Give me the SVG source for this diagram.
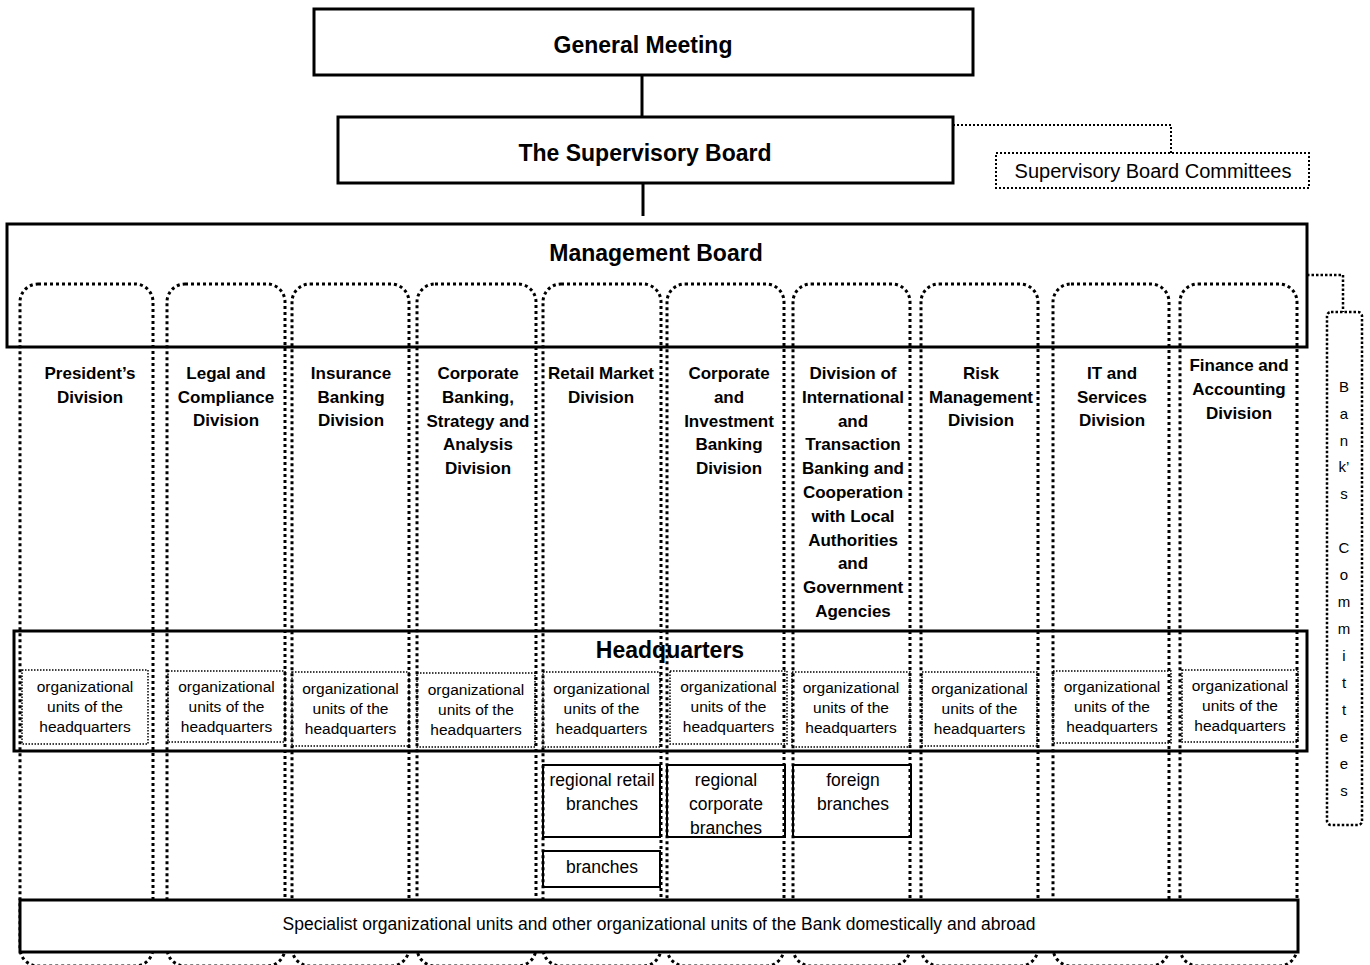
<svg xmlns="http://www.w3.org/2000/svg" width="1370" height="965" viewBox="0 0 1370 965">
<style>
.bg{fill:#fff}
.box{fill:none;stroke:#000;stroke-width:3}
.wbox{fill:#fff;stroke:#000;stroke-width:3}
.col{fill:none;stroke:#000;stroke-width:3;stroke-dasharray:3 3}
.unit{fill:none;stroke:#000;stroke-width:1.5;stroke-dasharray:1.5 1.5}
.br{fill:none;stroke:#000;stroke-width:2}
.dcon{fill:none;stroke:#000;stroke-width:2;stroke-dasharray:2 2}
.bcon{fill:none;stroke:#000;stroke-width:2.5;stroke-dasharray:2.5 2}
.con{fill:none;stroke:#000;stroke-width:3}
text{font-family:"Liberation Sans",Arial,sans-serif;fill:#000;text-anchor:middle}
.t{font-size:23px;font-weight:bold}
.d{font-size:17px;font-weight:bold}
.u{font-size:15.5px}
.b{font-size:17.5px}
.s{font-size:17.5px}
.sc{font-size:20px}
.k{font-size:15px}
</style>
<rect class="bg" x="0" y="0" width="1370" height="965"/>

<g id="columns">
<rect class="col" x="20" y="284" width="133" height="682" rx="18"/>
<rect class="col" x="167" y="284" width="118" height="682" rx="18"/>
<rect class="col" x="292" y="284" width="117" height="682" rx="18"/>
<rect class="col" x="417" y="284" width="119" height="682" rx="18"/>
<rect class="col" x="543" y="284" width="118" height="682" rx="18"/>
<rect class="col" x="667" y="284" width="117" height="682" rx="18"/>
<rect class="col" x="793" y="284" width="117" height="682" rx="18"/>
<rect class="col" x="921" y="284" width="117" height="682" rx="18"/>
<rect class="col" x="1053" y="284" width="116" height="682" rx="18"/>
<rect class="col" x="1180" y="284" width="117" height="682" rx="18"/>
</g>

<g id="connectors">
<line class="con" x1="642" y1="75" x2="642" y2="117"/>
<line class="con" x1="643" y1="183" x2="643" y2="216"/>
<polyline class="dcon" points="953,125 1171,125 1171,153"/>
<polyline class="bcon" points="1307,275 1343,275 1343,312"/>
</g>

<g id="general-meeting">
<rect class="box" x="314" y="9" width="659" height="66"/>
<text class="t" x="643" y="53">General Meeting</text>
</g>

<g id="supervisory-board">
<rect class="box" x="338" y="117" width="615" height="66"/>
<text class="t" x="645" y="161">The Supervisory Board</text>
</g>

<g id="supervisory-board-committees">
<rect class="dcon" x="996" y="153" width="313" height="35"/>
<text class="sc" x="1153" y="178">Supervisory Board Committees</text>
</g>

<g id="management-board">
<rect class="box" x="7" y="224" width="1300" height="123"/>
<text class="t" x="656" y="261">Management Board</text>
</g>

<g id="banks-committees">
<rect class="bcon" x="1327" y="312" width="35" height="513" rx="4"/>
<text class="k" x="1344" y="392">B</text>
<text class="k" x="1344" y="419">a</text>
<text class="k" x="1344" y="446">n</text>
<text class="k" x="1344" y="472">k’</text>
<text class="k" x="1344" y="499">s</text>
<text class="k" x="1344" y="553">C</text>
<text class="k" x="1344" y="580">o</text>
<text class="k" x="1344" y="607">m</text>
<text class="k" x="1344" y="634">m</text>
<text class="k" x="1344" y="661">i</text>
<text class="k" x="1344" y="688">t</text>
<text class="k" x="1344" y="715">t</text>
<text class="k" x="1344" y="742">e</text>
<text class="k" x="1344" y="769">e</text>
<text class="k" x="1344" y="796">s</text>
</g>

<g id="division-president">
<text class="d" x="90" y="379">President’s</text>
<text class="d" x="90" y="403">Division</text>
</g>
<g id="division-legal">
<text class="d" x="226" y="379">Legal and</text>
<text class="d" x="226" y="403">Compliance</text>
<text class="d" x="226" y="426">Division</text>
</g>
<g id="division-insurance">
<text class="d" x="351" y="379">Insurance</text>
<text class="d" x="351" y="403">Banking</text>
<text class="d" x="351" y="426">Division</text>
</g>
<g id="division-corporate-banking">
<text class="d" x="478" y="379">Corporate</text>
<text class="d" x="478" y="403">Banking,</text>
<text class="d" x="478" y="427">Strategy and</text>
<text class="d" x="478" y="450">Analysis</text>
<text class="d" x="478" y="474">Division</text>
</g>
<g id="division-retail">
<text class="d" x="601" y="379">Retail Market</text>
<text class="d" x="601" y="403">Division</text>
</g>
<g id="division-investment">
<text class="d" x="729" y="379">Corporate</text>
<text class="d" x="729" y="403">and</text>
<text class="d" x="729" y="427">Investment</text>
<text class="d" x="729" y="450">Banking</text>
<text class="d" x="729" y="474">Division</text>
</g>
<g id="division-international">
<text class="d" x="853" y="379">Division of</text>
<text class="d" x="853" y="402.8">International</text>
<text class="d" x="853" y="426.6">and</text>
<text class="d" x="853" y="450.4">Transaction</text>
<text class="d" x="853" y="474.2">Banking and</text>
<text class="d" x="853" y="498">Cooperation</text>
<text class="d" x="853" y="521.8">with Local</text>
<text class="d" x="853" y="545.6">Authorities</text>
<text class="d" x="853" y="569.4">and</text>
<text class="d" x="853" y="593.2">Government</text>
<text class="d" x="853" y="617">Agencies</text>
</g>
<g id="division-risk">
<text class="d" x="981" y="379">Risk</text>
<text class="d" x="981" y="403">Management</text>
<text class="d" x="981" y="426">Division</text>
</g>
<g id="division-it">
<text class="d" x="1112" y="379">IT and</text>
<text class="d" x="1112" y="403">Services</text>
<text class="d" x="1112" y="426">Division</text>
</g>
<g id="division-finance">
<text class="d" x="1239" y="371">Finance and</text>
<text class="d" x="1239" y="395">Accounting</text>
<text class="d" x="1239" y="419">Division</text>
</g>

<g id="headquarters">
<rect class="box" x="14" y="631" width="1293" height="120"/>
<text class="t" x="670" y="658">Headquarters</text>
</g>

<g id="unit-1"><rect class="unit" x="22" y="670" width="126" height="74"/>
<text class="u" x="85" y="692">organizational</text><text class="u" x="85" y="712">units of the</text><text class="u" x="85" y="732">headquarters</text></g>
<g id="unit-2"><rect class="unit" x="168" y="671" width="117" height="71"/>
<text class="u" x="226.5" y="692">organizational</text><text class="u" x="226.5" y="712">units of the</text><text class="u" x="226.5" y="732">headquarters</text></g>
<g id="unit-3"><rect class="unit" x="292" y="672" width="117" height="74"/>
<text class="u" x="350.5" y="694">organizational</text><text class="u" x="350.5" y="714">units of the</text><text class="u" x="350.5" y="734">headquarters</text></g>
<g id="unit-4"><rect class="unit" x="417" y="673" width="118" height="74"/>
<text class="u" x="476" y="695">organizational</text><text class="u" x="476" y="715">units of the</text><text class="u" x="476" y="735">headquarters</text></g>
<g id="unit-5"><rect class="unit" x="543" y="672" width="117" height="75"/>
<text class="u" x="601.5" y="694">organizational</text><text class="u" x="601.5" y="714">units of the</text><text class="u" x="601.5" y="734">headquarters</text></g>
<g id="unit-6"><rect class="unit" x="670" y="671" width="117" height="73"/>
<text class="u" x="728.5" y="692">organizational</text><text class="u" x="728.5" y="712">units of the</text><text class="u" x="728.5" y="732">headquarters</text></g>
<g id="unit-7"><rect class="unit" x="792" y="672" width="118" height="75"/>
<text class="u" x="851" y="693">organizational</text><text class="u" x="851" y="713">units of the</text><text class="u" x="851" y="733">headquarters</text></g>
<g id="unit-8"><rect class="unit" x="922" y="672" width="115" height="74"/>
<text class="u" x="979.5" y="694">organizational</text><text class="u" x="979.5" y="714">units of the</text><text class="u" x="979.5" y="734">headquarters</text></g>
<g id="unit-9"><rect class="unit" x="1053" y="671" width="118" height="72"/>
<text class="u" x="1112" y="692">organizational</text><text class="u" x="1112" y="712">units of the</text><text class="u" x="1112" y="732">headquarters</text></g>
<g id="unit-10"><rect class="unit" x="1182" y="670" width="116" height="72"/>
<text class="u" x="1240" y="691">organizational</text><text class="u" x="1240" y="711">units of the</text><text class="u" x="1240" y="731">headquarters</text></g>

<g id="regional-retail-branches">
<rect class="br" x="543" y="765" width="117" height="72"/>
<text class="b" x="602" y="786">regional retail</text>
<text class="b" x="602" y="810">branches</text>
</g>
<g id="regional-corporate-branches">
<rect class="br" x="667" y="765" width="118" height="72"/>
<text class="b" x="726" y="786">regional</text>
<text class="b" x="726" y="810">corporate</text>
<text class="b" x="726" y="834">branches</text>
</g>
<g id="foreign-branches">
<rect class="br" x="793" y="765" width="118" height="72"/>
<text class="b" x="853" y="786">foreign</text>
<text class="b" x="853" y="810">branches</text>
</g>
<g id="branches">
<rect class="br" x="543" y="851" width="117" height="36"/>
<text class="b" x="602" y="873">branches</text>
</g>

<g id="specialist-units">
<rect class="wbox" x="20" y="900" width="1278" height="52"/>
<text class="s" x="659" y="930">Specialist organizational units and other organizational units of the Bank domestically and abroad</text>
</g>
</svg>
